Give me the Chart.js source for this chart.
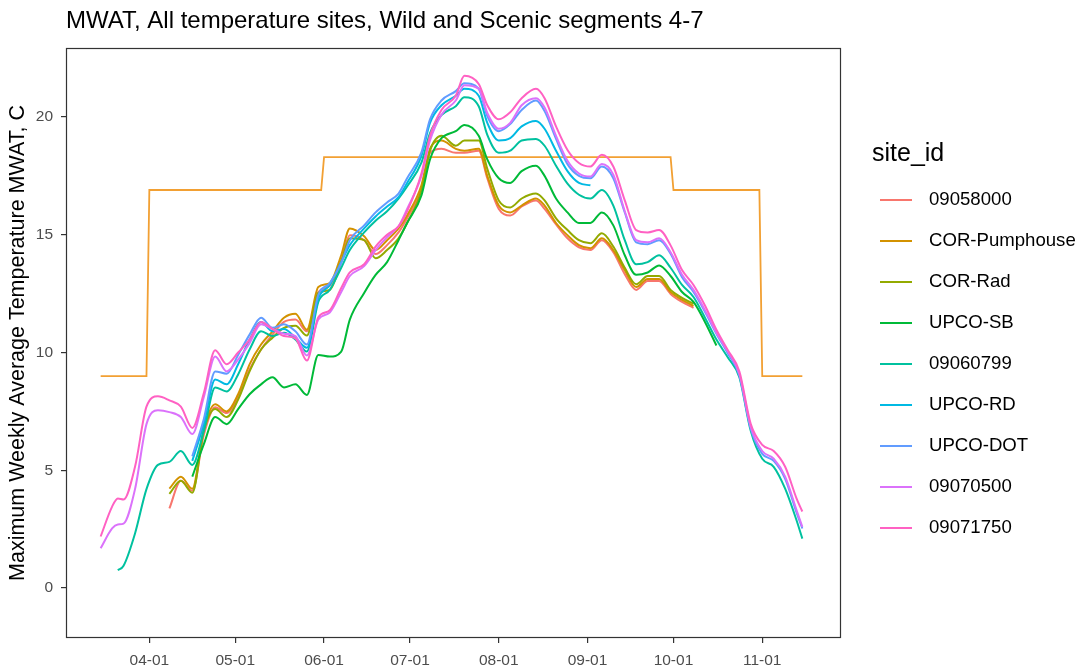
<!DOCTYPE html>
<html>
<head>
<meta charset="utf-8">
<title>MWAT, Wild and Scenic segments 4-7</title>
<script src="https://cdn.jsdelivr.net/npm/chart.js@4"></script>
<style>
  body { margin: 0; background: #fff; }
  #wrap { width: 1077px; height: 668px; }
</style>
</head>
<body>
<div id="wrap"><canvas id="mwatChart" width="1077" height="668"></canvas></div>
<script>
// day of year for every reading (non-leap year)
const days = [74, 78, 80, 82, 86, 90, 94, 98, 102, 106, 110, 114, 118, 122, 126, 130,
  134, 138, 142, 146, 150, 154, 158, 161, 166, 170, 174, 178, 181, 186, 189, 193,
  198, 201, 206, 209, 213, 217, 221, 226, 229, 233, 237, 241, 245, 249, 253, 257,
  261, 265, 269, 273, 277, 281, 285, 289, 293, 297, 301, 305, 309, 313, 317, 319];

const siteIds = ['09058000', 'COR-Pumphouse', 'COR-Rad', 'UPCO-SB', '09060799',
  'UPCO-RD', 'UPCO-DOT', '09070500', '09071750'];
const siteColors = ['#F8766D', '#D39200', '#93AA00', '#00BA38', '#00C19F',
  '#00B9E3', '#619CFF', '#DB72FB', '#FF61C3'];

const s09058000 = [null, null, null, null, null, null, null, 3.38, 4.56, 4.13, 6.5, 7.68, 7.43, 8.1, 9.28, 10.13,
  10.76, 11.3, 11.4, 10.9, 12.57, 12.83, 13.92, 14.98, 14.77, 14.18, 14.56, 15.1, 15.7, 16.96, 18.48, 18.65,
  18.48, 18.48, 18.57, 17.4, 16.1, 15.82, 16.2, 16.46, 16.1, 15.44, 14.85, 14.47, 14.35, 14.77, 14.26, 13.33,
  12.66, 13.04, 13.04, 12.49, 12.15, 11.9, null, null, null, null, null, null, null, null, null, null];
const corPumphouse = [null, null, null, null, null, null, null, 4.22, 4.73, 4.22, 6.75, 7.8, 7.5, 8.23, 9.5, 10.34,
  10.9, 11.48, 11.65, 10.97, 12.78, 12.95, 14.13, 15.27, 14.94, 14.35, 14.77, 15.27, 15.82, 17.1, 18.65, 19.0,
  18.65, 18.57, 18.65, 17.5, 16.24, 15.95, 16.24, 16.54, 16.24, 15.5, 14.98, 14.56, 14.43, 14.85, 14.35, 13.5,
  12.78, 13.12, 13.12, 12.57, 12.24, 11.98, null, null, null, null, null, null, null, null, null, null];
const corRad = [null, null, null, null, null, null, null, 4.0, 4.56, 4.05, 6.67, 7.6, 7.26, 8.0, 9.2, 10.13,
  10.63, 11.05, 11.14, 10.72, 12.53, 12.66, 13.84, 14.85, 14.77, 14.0, 14.35, 14.85, 15.5, 16.88, 18.57, 19.2,
  18.78, 19.0, 19.0, 17.8, 16.46, 16.16, 16.54, 16.75, 16.46, 15.7, 15.2, 14.77, 14.64, 15.06, 14.5, 13.6,
  12.9, 13.25, 13.25, 12.66, 12.32, 12.07, null, null, null, null, null, null, null, null, null, null];
const upcoSB = [null, null, null, null, null, null, null, null, null, 4.73, 6.1, 7.26, 6.96, 7.6, 8.23, 8.65,
  8.95, 8.52, 8.65, 8.2, 9.9, 9.83, 10.04, 11.4, 12.53, 13.3, 13.84, 14.77, 15.5, 16.67, 18.2, 19.1,
  19.4, 19.66, 19.2, 18.2, 17.4, 17.2, 17.7, 17.93, 17.5, 16.54, 15.95, 15.5, 15.5, 15.95, 15.4, 14.13,
  13.3, 13.4, 13.7, 13.25, 12.57, 12.15, 11.3, 10.3, null, null, null, null, null, null, null, null];
const s09060799 = [null, null, 0.76, 0.95, 2.32, 4.2, 5.23, 5.36, 5.82, 5.23, 6.67, 8.52, 8.35, 9.07, 10.13, 10.9,
  10.7, 10.84, 10.55, 10.04, 12.15, 12.66, 13.6, 14.35, 15.1, 15.6, 16.0, 16.54, 17.05, 18.06, 19.32, 20.08,
  20.46, 20.84, 20.46, 19.24, 18.48, 18.57, 19.0, 19.07, 18.78, 17.93, 17.17, 16.7, 16.54, 16.9, 16.24, 14.77,
  13.75, 13.84, 14.13, 13.6, 12.87, 12.36, 11.48, 10.55, 9.79, 8.95, 6.67, 5.49, 5.15, 4.22, 2.87, 2.1];
const upcoRD = [null, null, null, null, null, null, null, null, null, 5.4, 6.96, 8.86, 8.65, 9.5, 10.55, 11.3,
  10.9, 11.0, 10.63, 10.2, 12.3, 12.87, 13.84, 14.56, 15.27, 15.78, 16.2, 16.6, 17.2, 18.35, 19.75, 20.5,
  20.9, 21.2, 20.9, 19.75, 19.0, 19.1, 19.6, 19.83, 19.5, 18.57, 17.7, 17.2, 17.1, null, null, null,
  null, null, null, null, null, null, null, null, null, null, null, null, null, null, null, null];
const upcoDOT = [null, null, null, null, null, null, null, null, null, 5.6, 7.17, 9.2, 9.1, 9.9, 10.76, 11.48,
  11.05, 11.2, 10.9, 10.34, 12.45, 12.95, 13.8, 14.77, 15.4, 15.95, 16.37, 16.75, 17.4, 18.5, 19.9, 20.7,
  21.1, 21.43, 21.2, 20.04, 19.4, 19.7, 20.3, 20.7, 20.25, 19.07, 18.0, 17.5, 17.4, 17.9, 17.4, 15.95,
  14.68, 14.6, 14.77, 14.2, 13.2, 12.57, 11.73, 10.8, 9.96, 9.03, 6.75, 5.7, 5.4, 4.64, 3.2, 2.53];
const s09070500 = [1.69, 2.53, 2.7, 2.74, 4.2, 6.96, 7.55, 7.47, 7.26, 6.54, 8.1, 9.83, 9.2, 9.7, 10.4, 11.2,
  11.0, 10.8, 10.7, 9.87, 11.4, 11.7, 12.57, 13.25, 13.67, 14.35, 14.9, 15.36, 16.1, 17.5, 19.0, 20.1,
  20.7, 21.35, 21.2, 20.17, 19.5, 19.75, 20.5, 20.8, 20.4, 19.2, 18.14, 17.6, 17.47, 18.0, 17.55, 16.0,
  14.77, 14.68, 14.85, 14.26, 13.3, 12.66, 11.8, 10.84, 10.04, 9.1, 6.84, 5.82, 5.49, 4.73, 3.3, 2.6];
const s09071750 = [2.19, 3.46, 3.8, 3.76, 5.15, 7.7, 8.14, 7.97, 7.7, 6.8, 8.27, 10.1, 9.5, 10.0, 10.55, 11.3,
  11.0, 10.7, 10.6, 9.66, 11.5, 11.8, 12.74, 13.4, 13.75, 14.5, 15.0, 15.36, 16.0, 17.6, 19.2, 20.3,
  20.9, 21.75, 21.4, 20.5, 19.9, 20.2, 20.8, 21.2, 20.8, 19.6, 18.6, 18.05, 17.9, 18.4, 17.9, 16.46,
  15.2, 15.1, 15.2, 14.55, 13.5, 12.87, 12.0, 10.97, 10.1, 9.2, 6.96, 6.08, 5.82, 5.15, 3.8, 3.25];

const siteValues = [s09058000, corPumphouse, corRad, upcoSB, s09060799, upcoRD, upcoDOT, s09070500, s09071750];

// MWAT standard (step line, not in legend)
const stdDays = [74, 90, 91, 151, 152, 273, 274, 304, 305, 319];
const stdValues = [9.0, 9.0, 16.9, 16.9, 18.3, 18.3, 16.9, 16.9, 9.0, 9.0];

const xTickDays = [91, 121, 152, 182, 213, 244, 274, 305];
const xTickLabels = ['04-01', '05-01', '06-01', '07-01', '08-01', '09-01', '10-01', '11-01'];
const yTicks = [0, 5, 10, 15, 20];

const chartTitle = 'MWAT, All temperature sites, Wild and Scenic segments 4-7';
const yTitle = 'Maximum Weekly Average Temperature MWAT, C';
const legendTitle = 'site_id';

const FONT = '"Liberation Sans", Arial, Helvetica, sans-serif';

function toPoints(xs, ys) {
  return xs.map((d, i) => ({ x: d, y: ys[i] }));
}

const datasets = siteIds.map((id, i) => ({
  label: id,
  data: toPoints(days, siteValues[i]),
  borderColor: siteColors[i],
  backgroundColor: siteColors[i],
  borderWidth: 2,
  pointRadius: 0,
  fill: false,
  cubicInterpolationMode: 'monotone',
  order: siteIds.length - i
}));

datasets.push({
  label: 'standard',
  data: toPoints(stdDays, stdValues),
  borderColor: '#F2A033',
  borderWidth: 1.8,
  pointRadius: 0,
  fill: false,
  tension: 0,
  order: 20
});

// panel border, title and legend
const decorPlugin = {
  id: 'decor',
  afterDraw(chart) {
    const { ctx, chartArea: a } = chart;
    ctx.save();
    ctx.strokeStyle = '#333333';
    ctx.lineWidth = 1.2;
    ctx.strokeRect(a.left + 0.5, a.top + 0.5, a.right - a.left - 1, a.bottom - a.top - 1);

    ctx.fillStyle = '#000';
    ctx.textBaseline = 'middle';
    ctx.textAlign = 'left';
    ctx.font = '24px ' + FONT;
    ctx.fillText(chartTitle, a.left, 21);

    ctx.font = '25px ' + FONT;
    ctx.fillText(legendTitle, 872, 154);

    ctx.font = '18.6px ' + FONT;
    chart.data.datasets.forEach((ds, i) => {
      if (ds.label === 'standard') return;
      const y = 200 + i * 41;
      ctx.strokeStyle = ds.borderColor;
      ctx.lineWidth = 2;
      ctx.beginPath();
      ctx.moveTo(880, y);
      ctx.lineTo(912, y);
      ctx.stroke();
      ctx.fillStyle = '#000';
      ctx.fillText(ds.label, 929, y);
    });
    ctx.restore();
  }
};

const ctx = document.getElementById('mwatChart').getContext('2d');

const mwatChart = new Chart(ctx, {
  type: 'line',
  data: { datasets: datasets },
  options: {
    responsive: false,
    animation: false,
    devicePixelRatio: 1,
    layout: { padding: { top: 48, right: 236, bottom: 0, left: 0 } },
    plugins: {
      legend: { display: false },
      title: { display: false },
      tooltip: { enabled: false }
    },
    scales: {
      x: {
        type: 'linear',
        min: 61.9,
        max: 332.5,
        afterFit: (s) => { s.height = 30; },
        afterBuildTicks: (s) => { s.ticks = xTickDays.map(v => ({ value: v })); },
        border: { display: false },
        grid: { drawOnChartArea: false, drawTicks: true, tickLength: 5, color: '#333333', lineWidth: 1.2 },
        ticks: {
          autoSkip: false,
          maxRotation: 0,
          padding: 8,
          color: '#4D4D4D',
          font: { family: FONT, size: 15.5 },
          callback: (value, index) => xTickLabels[index]
        }
      },
      y: {
        min: -2.12,
        max: 22.93,
        afterFit: (s) => { s.width = 66; },
        afterBuildTicks: (s) => { s.ticks = yTicks.map(v => ({ value: v })); },
        border: { display: false },
        grid: { drawOnChartArea: false, drawTicks: true, tickLength: 5, color: '#333333', lineWidth: 1.2 },
        ticks: {
          padding: 8,
          color: '#4D4D4D',
          font: { family: FONT, size: 15.5 },
          callback: (value) => String(value)
        },
        title: {
          display: true,
          text: yTitle,
          color: '#000',
          font: { family: FONT, size: 21.5 },
          padding: { top: 5, bottom: 0 }
        }
      }
    }
  },
  plugins: [decorPlugin]
});
</script>
</body>
</html>
